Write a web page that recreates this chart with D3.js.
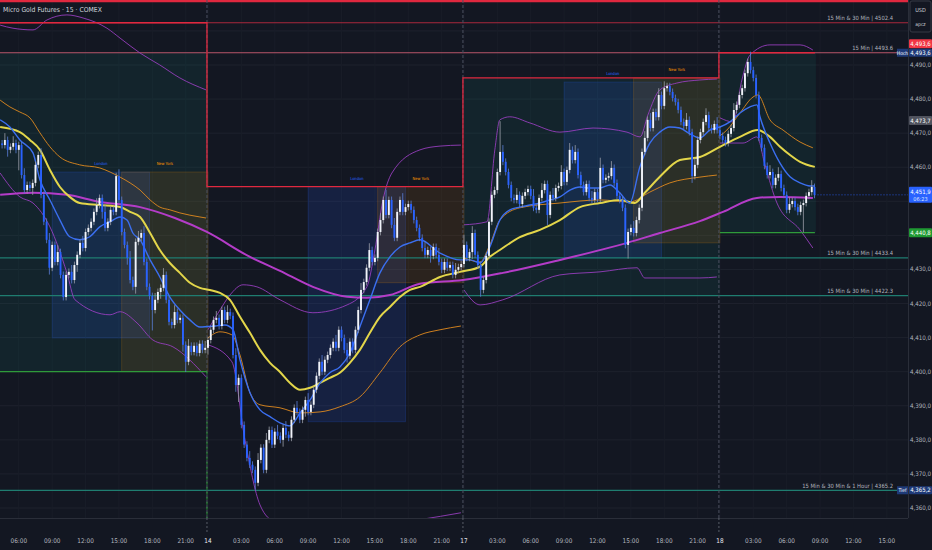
<!DOCTYPE html>
<html>
<head>
<meta charset="utf-8">
<script src="https://cdnjs.cloudflare.com/ajax/libs/d3/7.8.5/d3.min.js"></script>
<style>
  body { margin: 0; background: #131722; }
  svg text { font-family: "Liberation Sans Narrow", "DejaVu Sans Condensed", Roboto, sans-serif; }
</style>
</head>
<body>
<div id="chart"></div>
<script>
// ---- data (15 min bars, index 0 = 14th 00:00, 92 bars per session) ----
const firstIndex = -74;
const firstOpen = 4467.0;
const closes = [
  4466.5,4468.0,4465.1,4466.0,4467.1,4465.1,4466.5,4457.7,4453.3,4454.8,
  4453.9,4455.4,4460.7,4463.6,4451.9,4444.0,4438.7,4430.5,4437.2,4432.2,
  4435.1,4428.4,4421.9,4428.4,4429.3,4426.9,4431.3,4434.3,4437.8,4436.3,
  4441.0,4442.2,4444.0,4446.9,4448.9,4451.0,4446.9,4442.2,4444.0,4447.5,
  4446.9,4457.4,4450.4,4441.0,4437.2,4433.4,4426.9,4424.9,4438.1,4439.3,
  4440.7,4432.2,4424.9,4422.2,4418.1,4421.1,4423.4,4424.6,4428.4,4421.1,
  4414.6,4413.7,4417.5,4415.2,4415.8,4407.9,4402.9,4407.6,4405.8,4407.6,
  4405.5,4408.2,4406.4,4407.0,4409.3,4412.3,4415.2,4415.8,4413.4,4418.1,
  4415.2,4417.5,4416.4,4404.9,4396.1,4398.2,4384.4,4378.6,4374.7,4372.7,
  4371.2,4367.4,4374.1,4377.7,4371.2,4380.0,4382.9,4378.6,4382.4,4381.2,
  4380.0,4383.5,4381.5,4380.6,4385.9,4389.4,4388.2,4385.9,4388.8,4391.7,
  4388.2,4390.3,4394.7,4398.8,4402.9,4400.0,4403.5,4404.9,4407.0,4408.8,
  4407.0,4412.3,4409.9,4406.4,4404.7,4408.8,4406.4,4412.3,4418.1,4424.0,
  4426.3,4430.5,4435.7,4432.2,4433.4,4441.0,4444.5,4450.4,4446.0,4450.4,
  4443.1,4439.3,4446.9,4450.4,4446.9,4448.3,4449.2,4447.5,4444.5,4442.2,
  4439.3,4436.3,4434.3,4435.7,4434.0,4436.6,4434.3,4432.2,4429.9,4432.2,
  4430.5,4431.3,4428.4,4429.9,4430.7,4431.6,4437.2,4433.4,4435.1,4440.7,
  4434.3,4431.3,4424.0,4426.9,4434.0,4444.0,4451.9,4453.3,4458.6,4464.5,
  4461.6,4458.6,4454.8,4451.0,4450.4,4451.9,4449.2,4451.6,4452.7,4453.6,
  4451.6,4448.1,4447.5,4451.0,4453.3,4455.1,4446.0,4451.9,4451.0,4453.9,
  4454.5,4458.6,4455.7,4459.2,4465.1,4462.1,4464.5,4457.7,4454.8,4452.7,
  4455.1,4451.0,4450.4,4452.7,4450.7,4459.8,4456.3,4456.9,4457.4,4459.8,
  4455.4,4451.6,4450.4,4448.1,4437.2,4441.0,4442.2,4440.7,4444.5,4448.1,
  4464.5,4468.6,4473.9,4471.5,4476.2,4474.7,4481.2,4478.0,4483.2,4483.8,
  4482.1,4480.3,4479.1,4476.8,4473.3,4472.1,4473.9,4470.3,4457.4,4460.7,
  4468.0,4470.3,4473.3,4475.3,4471.5,4470.9,4472.7,4470.9,4469.2,4468.0,
  4467.1,4469.8,4471.5,4476.8,4478.3,4481.2,4483.2,4487.6,4490.9,4488.5,
  4486.2,4481.2,4468.6,4465.7,4460.4,4457.7,4458.6,4454.8,4456.9,4458.0,
  4453.9,4451.9,4447.5,4449.2,4450.1,4448.3,4446.9,4448.9,4449.5,4451.6,
  4452.7,4454.2,4451.9
];
// wick lengths above / below the body, in points
const wickUp = [
  1,2,1,1,2,1,1,1,2,1, 1,1,1,1,2,1,1,2,1,1, 2,1,1,1,1,2,1,1,1,2, 1,1,1,1,2,1,1,2,1,1,
  1,1,2,1,1,1,2,1,1,2, 1,2,1,1,1,2,1,1,2,1, 1,1,2,1,1,1,1,2,1,1, 1,1,1,2,1,1,1,2,1,1,
  1,2,1,1,2,1,1,1,1,2, 1,1,2,1,1,2,1,1,1,2, 1,1,2,1,1,1,2,1,1,1, 2,1,1,1,1,2,1,1,1,1,
  2,1,1,1,2,1,1,1,1,2, 1,1,2,1,1,1,2,1,3,1, 1,2,1,1,2,1,1,1,1,1, 1,1,2,1,1,1,1,2,1,1,
  1,1,1,2,1,1,3,1,1,2, 1,1,1,1,1,1,1,1,1,9, 2,1,1,1,1,2,1,1,1,1, 1,2,1,1,2,1,1,1,2,1,
  1,2,1,1,2,1,2,1,1,1, 1,1,2,1,1,3,1,1,1,2, 1,1,1,1,1,1,1,2,1,1, 1,2,1,2,1,1,2,1,2,1,
  1,1,1,1,1,1,2,1,1,2, 1,1,1,2,1,1,1,2,1,1, 1,1,1,2,1,1,1,1,1,3, 1,1,1,1,1,1,2,1,1,2,
  1,1,1,2,1,1,1,1,1,1, 1,2,1
];
const wickDn = [
  1,1,2,1,1,1,6,1,1,1, 1,2,1,1,1,1,1,2,1,1, 1,1,1,1,1,1,1,2,1,1, 1,1,1,1,1,1,2,1,1,1,
  1,1,1,1,1,2,1,1,2,1, 1,1,1,1,6,1,1,2,1,1, 1,1,1,1,1,2,3,1,1,1, 1,1,1,1,2,1,1,1,1,1,
  1,1,1,1,2,5,1,1,1,1, 1,2,1,1,1,1,1,1,1,1, 1,2,1,1,1,1,1,1,1,2, 1,1,1,1,1,1,1,1,1,1,
  1,1,1,1,2,1,1,1,1,1, 1,1,1,1,1,1,1,1,1,1, 1,1,1,1,1,1,1,1,1,1, 1,1,1,1,2,1,1,1,1,1,
  1,1,1,1,1,1,1,1,1,2, 1,1,2,1,1,1,1,1,1,1, 1,1,1,1,1,1,1,1,1,1, 1,1,1,1,1,1,3,1,1,1,
  1,1,1,1,1,1,1,1,1,1, 1,1,1,1,1,1,1,1,1,1, 1,1,1,1,1,4,1,1,1,1, 1,1,1,1,1,1,1,1,1,1,
  1,1,1,1,1,1,1,1,2,1, 1,1,1,1,1,1,1,1,1,1, 1,1,1,1,1,1,1,1,1,1, 1,1,1,1,1,1,1,1,1,1,
  1,1,1,1,1,1,1,1,8,1, 1,1,1
];

// moving averages, [bar index, price]
const emaFast = [[-74.7,4473.9],[-71.2,4471.8],[-67.6,4468.0],[-62.9,4464.2],[-60.4,4456.3],[-56.8,4450.4],
  [-53.2,4444.5],[-49.7,4439.6],[-46.1,4438.7],[-42.5,4439.6],[-38.9,4442.5],[-35.2,4444.0],[-31.6,4445.4],
  [-29.1,4444.5],[-27.0,4440.7],[-24.4,4438.7],[-20.8,4432.8],[-17.3,4427.8],[-13.7,4421.9],[-10.1,4418.1],
  [-6.5,4415.2],[-2.9,4413.1],[2.5,4413.4],[6.1,4413.7],[9.0,4412.3],[11.5,4403.5],[15.1,4393.8],
  [18.7,4388.8],[22.3,4386.8],[25.9,4385.0],[29.5,4384.1],[33.1,4387.9],[36.7,4391.7],[40.3,4396.7],
  [43.8,4399.7],[47.4,4401.4],[51.0,4405.5],[54.6,4413.2],[58.2,4421.1],[61.8,4429.0],[65.4,4433.7],
  [69.0,4436.6],[72.6,4437.8],[76.2,4438.7],[83.4,4434.8],[90.6,4432.8],[94.2,4432.8],[97.8,4431.9],
  [101.3,4436.6],[104.9,4444.5],[108.5,4447.5],[112.1,4448.3],[115.7,4448.9],[119.3,4449.5],[122.9,4450.4],
  [126.5,4451.3],[130.1,4453.3],[133.7,4454.2],[137.3,4453.9],[140.9,4453.9],[144.5,4454.8],[148.0,4452.5],
  [151.6,4449.5],[155.2,4460.0],[158.8,4467.1],[162.4,4470.3],[166.0,4471.8],[169.6,4471.5],[173.2,4469.8],
  [176.8,4468.6],[180.4,4470.9],[184.0,4471.8],[187.6,4473.3],[191.2,4475.9],[194.8,4477.7],[197.3,4478.3],
  [198.4,4474.8],[202.0,4467.1],[205.6,4461.2],[209.2,4457.2],[212.8,4455.4],[216.4,4454.5],[218.1,4454.5]];
const emaSlow = [[-74.7,4471.8],[-67.6,4470.3],[-64.0,4468.0],[-60.4,4465.1],[-56.8,4459.2],[-53.2,4454.2],
  [-49.7,4451.3],[-46.1,4449.5],[-38.9,4448.9],[-31.6,4448.3],[-28.0,4446.9],[-24.4,4445.4],[-20.8,4440.7],
  [-17.3,4435.7],[-13.7,4431.9],[-10.1,4429.0],[-6.5,4426.1],[-2.9,4424.6],[0.7,4424.0],[4.3,4423.1],
  [7.9,4421.1],[11.5,4416.1],[15.1,4411.4],[18.7,4406.4],[22.3,4402.6],[25.9,4399.9],[29.5,4396.7],
  [33.1,4394.7],[36.7,4395.3],[40.3,4396.7],[43.8,4398.2],[47.4,4399.7],[51.0,4402.6],[54.6,4406.4],
  [58.2,4411.4],[61.8,4416.1],[65.4,4419.0],[69.0,4421.9],[72.6,4424.0],[76.2,4424.9],[83.4,4427.8],
  [90.6,4429.3],[97.8,4430.8],[101.3,4433.7],[104.9,4435.7],[112.1,4439.5],[119.3,4441.6],[126.5,4444.5],
  [133.7,4448.3],[140.9,4449.5],[148.0,4450.4],[153.4,4449.5],[157.0,4452.5],[162.4,4457.2],[169.6,4462.1],
  [176.8,4463.0],[184.0,4466.0],[191.2,4468.9],[197.6,4470.9],[202.0,4468.9],[205.6,4466.0],[209.2,4463.6],
  [212.8,4461.6],[218.1,4460.1]];
const maLong = [[-74.7,4451.9],[-62.9,4452.5],[-50.7,4451.9],[-38.8,4449.8],[-24.4,4448.3],[-11.9,4445.1],
  [-0.4,4441.0],[15.1,4433.7],[25.9,4429.6],[37.7,4424.9],[50.0,4422.0],[57.1,4421.7],[65.4,4422.5],
  [76.2,4425.8],[91.6,4426.9],[106.0,4429.0],[126.5,4432.8],[150.6,4437.8],[162.4,4440.7],[176.8,4444.2],
  [185.1,4446.9],[197.3,4451.0],[205.6,4451.3],[217.4,4451.0]];

// session VWAP and bands, one array per session
const vwap13 = [[-74.7,4479.7],[-71.2,4477.7],[-67.6,4476.2],[-64.0,4474.5],[-60.4,4470.1],[-56.8,4466.0],
  [-53.2,4463.0],[-46.1,4460.7],[-38.9,4459.8],[-35.2,4458.6],[-31.6,4457.1],[-28.0,4455.4],[-24.4,4453.3],
  [-20.8,4450.4],[-17.3,4448.3],[-13.7,4447.5],[-10.1,4446.6],[-2.9,4445.4],[-0.7,4445.1]];
const vwap14 = [[0,4409.9],[4.3,4411.7],[8.6,4410.8],[11.5,4404.9],[15.1,4393.8],[18.7,4390.3],[25.9,4389.4],
  [33.1,4387.9],[40.3,4388.2],[47.4,4389.7],[54.6,4392.6],[61.8,4399.7],[69.0,4407.3],[76.2,4410.8],
  [83.4,4412.3],[90.9,4413.4]];
const vwap17 = [[92.0,4433.4],[97.8,4432.2],[101.3,4437.2],[104.9,4444.5],[112.1,4448.1],[126.5,4449.5],
  [140.9,4450.4],[151.7,4449.8],[158.8,4452.7],[166.0,4455.4],[176.8,4457.1],[182.9,4457.7]];
const vwap18 = [[184.0,4469.2],[186.5,4470.9],[191.2,4475.9],[195.9,4480.6],[197.6,4481.2],[202.0,4473.9],
  [206.7,4470.9],[212.8,4467.4],[217.4,4465.7]];
const bandUp13 = [[-74.7,4501.7],[-70.1,4500.8],[-62.9,4500.3],[-57.9,4503.2],[-50.7,4504.7],[-44.9,4503.8],
  [-36.3,4500.8],[-31.6,4497.9],[-24.4,4493.5],[-17.3,4490.0],[-10.1,4486.2],[-0.7,4482.7]];
const bandDn13 = [[-74.7,4458.3],[-67.6,4451.3],[-62.9,4449.5],[-56.8,4442.5],[-50.7,4429.0],[-47.8,4421.1],
  [-35.2,4416.7],[-31.6,4417.6],[-25.5,4414.3],[-19.8,4409.3],[-12.6,4407.3],[-0.7,4398.5]];
const bandUp14 = [[0,4412.3],[4.3,4418.1],[7.9,4422.5],[12.6,4425.5],[17.6,4424.9],[25.9,4421.1],[37.7,4417.3],
  [50.0,4419.6],[57.1,4424.9],[60.0,4435.7],[62.9,4450.4],[66.1,4458.3],[76.2,4465.1],[83.4,4466.2],[90.9,4466.5]];
const bandDn14 = [[0,4407.9],[8.6,4402.9],[13.3,4380.0],[18.7,4360.9],[24.1,4355.7],[33.1,4353.6],[51.0,4353.6],
  [61.8,4355.1],[76.2,4356.6],[90.9,4358.6]];
const bandUp17 = [[92.0,4443.1],[100.3,4444.0],[103.1,4465.1],[104.9,4473.9],[108.5,4474.8],[115.7,4473.0],
  [126.5,4470.3],[138.4,4471.5],[150.6,4470.3],[155.3,4468.9],[158.1,4475.3],[162.4,4482.7],[168.5,4484.7],
  [176.8,4485.6],[182.9,4485.9]];
const bandDn17 = [[92.0,4424.0],[97.8,4419.6],[106.0,4421.1],[126.5,4428.4],[140.9,4429.3],[154.2,4430.5],
  [157.0,4427.5],[176.8,4427.5],[182.9,4427.8]];
const bandUp18 = [[184.0,4474.5],[188.7,4473.3],[191.9,4485.6],[194.8,4492.9],[202.0,4495.9],[212.8,4495.9],[217.4,4494.4]];
const bandDn18 = [[184.0,4467.1],[192.3,4467.1],[197.3,4468.9],[200.2,4460.7],[204.5,4449.5],[212.8,4441.6],[217.4,4436.3]];

// session boxes
const boxStart = [-56, -31, 36, 61, 128, 153];
const boxEnd = [-21, 0, 71, 92, 163, 184];
const boxHigh = [4458.6, 4458.6, 4454.3, 4454.3, 4485.0, 4486.2];
const boxLow = [4409.9, 4400.0, 4385.3, 4426.1, 4433.4, 4437.8];
const boxName = ["London", "New York", "London", "New York", "London", "New York"];

// daily range shading
const rangeStart = [-74.75, 92, 184];
const rangeEnd = [0, 184, 218.5];
const rangeHigh = [4493.6, 4486.2, 4493.6];
const rangeLow = [4400.0, 4422.3, 4440.8];

// stepped high / low references
const highStepIdx = [-74.75, 0, 92, 184, 218.5];
const highStepPrice = [4502.4, 4454.3, 4486.2, 4493.6];
const lowStepIdx = [[-74.75, 0], [184, 218.5]];
const lowStepPrice = [4400.0, 4440.8];

// horizontal levels
const levelPrice = [4502.4, 4493.6, 4433.4, 4422.3, 4365.2];
const levelText = ["15 Min & 30 Min | 4502.4", "15 Min | 4493.6", "15 Min & 30 Min | 4433.4",
  "15 Min & 30 Min | 4422.3", "15 Min & 30 Min & 1 Hour | 4365.2"];
const levelColor = ["#a8283c", "#b8566a", "#1f7d70", "#1f7d70", "#1f7d70"];

// axes
const priceTicks = [4490, 4480, 4470, 4460, 4430, 4420, 4410, 4400, 4390, 4380, 4370, 4360];
const gridPrices = [4360, 4370, 4380, 4390, 4400, 4410, 4420, 4430, 4440, 4450, 4460, 4470, 4480, 4490, 4500];
const timeTickIdx = [-68, -56, -44, -32, -20, -8, 0, 12, 24, 36, 48, 60, 72, 84, 92, 104, 116, 128, 140,
  152, 164, 176, 184, 196, 208, 220, 232, 244];
const timeTickText = ["06:00", "09:00", "12:00", "15:00", "18:00", "21:00", "14", "03:00", "06:00", "09:00",
  "12:00", "15:00", "18:00", "21:00", "17", "03:00", "06:00", "09:00", "12:00", "15:00", "18:00", "21:00",
  "18", "03:00", "06:00", "09:00", "12:00", "15:00"];
const dayBreaks = [0, 92, 184];

const lastPrice = 4451.9;
const countdown = "06:23";
const dayHigh = 4493.6;
const dayLow = 4440.8;
const weekLow = 4365.2;
const markPrice = 4473.7;

// ---- layout ----
const W = 932, H = 550, plotW = 908, plotH = 518;

const svg = d3.select("#chart").append("svg").attr("width", W).attr("height", H);
svg.append("rect").attr("width", W).attr("height", H).attr("fill", "#131722");

const x = d3.scaleLinear().domain([-74.75, 251.6]).range([0, plotW]);
const y = d3.scaleLinear().domain([4360, 4490]).range([508, 65]);

svg.append("clipPath").attr("id", "plot").append("rect").attr("width", plotW).attr("height", plotH);
const g = svg.append("g").attr("clip-path", "url(#plot)");

const fmt = p => { const s = p.toFixed(1).replace(".", ","); return s[0] + "," + s.slice(1); };

// grid
g.selectAll(".hgrid").data(gridPrices).enter().append("line")
  .attr("x1", 0).attr("x2", plotW).attr("y1", d => y(d)).attr("y2", d => y(d))
  .attr("stroke", "#1e222d").attr("stroke-width", 1);
g.selectAll(".vgrid").data(timeTickIdx).enter().append("line")
  .attr("x1", d => x(d)).attr("x2", d => x(d)).attr("y1", 0).attr("y2", plotH)
  .attr("stroke", "#191d28").attr("stroke-width", 1);

// daily range shading
rangeStart.forEach((s, k) => {
  g.append("rect").attr("x", x(s)).attr("width", x(rangeEnd[k]) - x(s))
    .attr("y", y(rangeHigh[k])).attr("height", y(rangeLow[k]) - y(rangeHigh[k]))
    .attr("fill", "#0f9a8a").attr("fill-opacity", 0.1);
});

// session boxes
boxStart.forEach((s, k) => {
  const ny = boxName[k] === "New York";
  const col = ny ? "#ff9800" : "#2962ff";
  g.append("rect").attr("x", x(s)).attr("width", x(boxEnd[k]) - x(s))
    .attr("y", y(boxHigh[k])).attr("height", y(boxLow[k]) - y(boxHigh[k]))
    .attr("fill", col).attr("fill-opacity", ny ? 0.1 : 0.14)
    .attr("stroke", col).attr("stroke-opacity", 0.22).attr("stroke-width", 0.8);
  g.append("text").attr("x", (x(s) + x(boxEnd[k])) / 2).attr("y", y(boxHigh[k]) - 7)
    .attr("text-anchor", "middle").attr("font-size", 4).attr("fill", col).text(boxName[k]);
});

// levels
levelPrice.forEach((p, k) => {
  g.append("line").attr("x1", 0).attr("x2", plotW).attr("y1", y(p)).attr("y2", y(p))
    .attr("stroke", levelColor[k]).attr("stroke-width", 1.2);
  svg.append("text").attr("x", 893).attr("y", y(p) - 2.5).attr("text-anchor", "end")
    .attr("font-size", 5.8).attr("fill", "#b2b5be").text(levelText[k]);
});
g.append("line").attr("x1", 0).attr("x2", plotW).attr("y1", 1.2).attr("y2", 1.2)
  .attr("stroke", "#e0283f").attr("stroke-width", 2.2);

// day breaks
g.selectAll(".brk").data(dayBreaks).enter().append("line")
  .attr("x1", d => x(d) - 1).attr("x2", d => x(d) - 1).attr("y1", 0).attr("y2", plotH)
  .attr("stroke", "#4c5060").attr("stroke-width", 1).attr("stroke-dasharray", "3,2");

const line = d3.line().x(d => x(d[0])).y(d => y(d[1])).curve(d3.curveMonotoneX);

// bands
[bandUp13, bandDn13, bandUp14, bandDn14, bandUp17, bandDn17, bandUp18, bandDn18].forEach(b => {
  g.append("path").attr("d", line(b)).attr("fill", "none")
    .attr("stroke", "#9c3fc4").attr("stroke-width", 1).attr("stroke-opacity", 0.85);
});
[vwap13, vwap14, vwap17, vwap18].forEach(v => {
  g.append("path").attr("d", line(v)).attr("fill", "none")
    .attr("stroke", "#e08a1e").attr("stroke-width", 1).attr("stroke-opacity", 0.9);
});
g.append("path").attr("d", line(maLong)).attr("fill", "none")
  .attr("stroke", "#b43cc8").attr("stroke-width", 2);
g.append("path").attr("d", line(emaSlow)).attr("fill", "none")
  .attr("stroke", "#e3d64a").attr("stroke-width", 2);
g.append("path").attr("d", line(emaFast)).attr("fill", "none")
  .attr("stroke", "#3b6ff0").attr("stroke-width", 1.4);

// stepped references
const stepPts = [];
highStepPrice.forEach((p, k) => { stepPts.push([highStepIdx[k], p]); stepPts.push([highStepIdx[k + 1], p]); });
g.append("path").attr("d", d3.line().x(d => x(d[0]) - 1).y(d => y(d[1]))(stepPts))
  .attr("fill", "none").attr("stroke", "#e0283f").attr("stroke-width", 1.3);
lowStepIdx.forEach((r, k) => {
  g.append("line").attr("x1", x(r[0])).attr("x2", x(r[1]) - 1).attr("y1", y(lowStepPrice[k])).attr("y2", y(lowStepPrice[k]))
    .attr("stroke", "#2f9a3a").attr("stroke-width", 1.2);
});
g.append("line").attr("x1", x(0) - 1).attr("x2", x(0) - 1).attr("y1", y(lowStepPrice[0])).attr("y2", plotH)
  .attr("stroke", "#2f9a3a").attr("stroke-width", 1).attr("stroke-dasharray", "3,2");

// candles
const bars = closes.map((c, k) => {
  const o = k === 0 ? firstOpen : closes[k - 1];
  return { i: firstIndex + k, o: o, c: c, h: Math.max(o, c) + wickUp[k], l: Math.min(o, c) - wickDn[k] };
});
const bw = 1.9;
const cg = g.append("g");
cg.selectAll(".wick").data(bars).enter().append("line")
  .attr("x1", d => x(d.i)).attr("x2", d => x(d.i)).attr("y1", d => y(d.h)).attr("y2", d => y(d.l))
  .attr("stroke", d => d.c >= d.o ? "#9a9ea8" : "#5b7fd8").attr("stroke-width", 0.8);
cg.selectAll(".body").data(bars).enter().append("rect")
  .attr("x", d => x(d.i) - bw / 2).attr("width", bw)
  .attr("y", d => y(Math.max(d.o, d.c)))
  .attr("height", d => Math.max(0.8, Math.abs(y(d.o) - y(d.c))))
  .attr("fill", d => d.c >= d.o ? "#f0f3fa" : "#2962ff");

// last price line
const lastBar = bars[bars.length - 1];
g.append("line").attr("x1", x(lastBar.i)).attr("x2", plotW).attr("y1", y(lastPrice)).attr("y2", y(lastPrice))
  .attr("stroke", "#2962ff").attr("stroke-width", 0.8).attr("stroke-dasharray", "1,2");

// ---- axes ----
svg.append("line").attr("x1", plotW + 0.5).attr("x2", plotW + 0.5).attr("y1", 0).attr("y2", plotH)
  .attr("stroke", "#2a2e39");
svg.append("line").attr("x1", 0).attr("x2", plotW).attr("y1", plotH + 0.5).attr("y2", plotH + 0.5)
  .attr("stroke", "#2a2e39");

svg.selectAll(".ptick").data(priceTicks).enter().append("text")
  .attr("x", 920.5).attr("y", d => y(d) + 2).attr("text-anchor", "middle")
  .attr("font-size", 6.2).attr("fill", "#b2b5be").text(d => fmt(d));

svg.selectAll(".ttick").data(timeTickIdx).enter().append("text")
  .attr("x", d => x(d)).attr("y", 543).attr("text-anchor", "middle")
  .attr("font-size", 6.4).attr("fill", (d, k) => timeTickText[k].length < 3 ? "#e8eaf0" : "#b2b5be")
  .text((d, k) => timeTickText[k]);
svg.selectAll(".tbrk").data(dayBreaks).enter().append("line")
  .attr("x1", d => x(d) - 1).attr("x2", d => x(d) - 1).attr("y1", plotH).attr("y2", 533)
  .attr("stroke", "#6a6e7a").attr("stroke-width", 0.8).attr("stroke-dasharray", "2,2");

// price tags
function tag(py, bg, text, h) {
  svg.append("rect").attr("x", plotW + 1).attr("y", py - h / 2).attr("width", W - plotW - 1).attr("height", h)
    .attr("fill", bg).attr("rx", 1);
  svg.append("text").attr("x", 920.5).attr("y", py + 2).attr("text-anchor", "middle")
    .attr("font-size", 6).attr("fill", "#ffffff").text(text);
}
function sideTag(py, text) {
  svg.append("rect").attr("x", 897).attr("y", py - 4).attr("width", 11).attr("height", 8).attr("fill", "#1e3a78");
  svg.append("text").attr("x", 902.5).attr("y", py + 2).attr("text-anchor", "middle")
    .attr("font-size", 5).attr("fill", "#ffffff").text(text);
}
tag(y(dayHigh) - 9, "#f23645", fmt(dayHigh), 9);
tag(y(dayHigh), "#1e3a78", fmt(dayHigh), 8);
sideTag(y(dayHigh), "Hoch");
tag(y(markPrice), "#50535e", fmt(markPrice), 9);
svg.append("rect").attr("x", plotW + 1).attr("y", y(lastPrice) - 8).attr("width", W - plotW - 1).attr("height", 16)
  .attr("fill", "#2962ff").attr("rx", 1);
svg.append("text").attr("x", 920.5).attr("y", y(lastPrice) - 1).attr("text-anchor", "middle")
  .attr("font-size", 6).attr("fill", "#ffffff").text(fmt(lastPrice));
svg.append("text").attr("x", 920.5).attr("y", y(lastPrice) + 6).attr("text-anchor", "middle")
  .attr("font-size", 5.5).attr("fill", "#dfe6ff").text(countdown);
tag(y(dayLow), "#1f9a33", fmt(dayLow), 9);
tag(y(weekLow), "#1e3a78", fmt(weekLow), 8);
sideTag(y(weekLow), "Tief");

// currency box
svg.append("rect").attr("x", plotW + 2).attr("y", 1).attr("width", W - plotW - 3).attr("height", 31)
  .attr("fill", "#131722").attr("stroke", "#363a45").attr("rx", 2);
svg.append("text").attr("x", 920.5).attr("y", 12).attr("text-anchor", "middle")
  .attr("font-size", 5.5).attr("fill", "#d1d4dc").text("USD");
svg.append("text").attr("x", 920.5).attr("y", 26).attr("text-anchor", "middle")
  .attr("font-size", 5).attr("fill", "#d1d4dc").text("apcz");

// title
svg.append("text").attr("x", 3).attr("y", 12).attr("font-size", 6.8).attr("fill", "#d1d4dc")
  .text("Micro Gold Futures · 15 · COMEX");
</script>
</body>
</html>
